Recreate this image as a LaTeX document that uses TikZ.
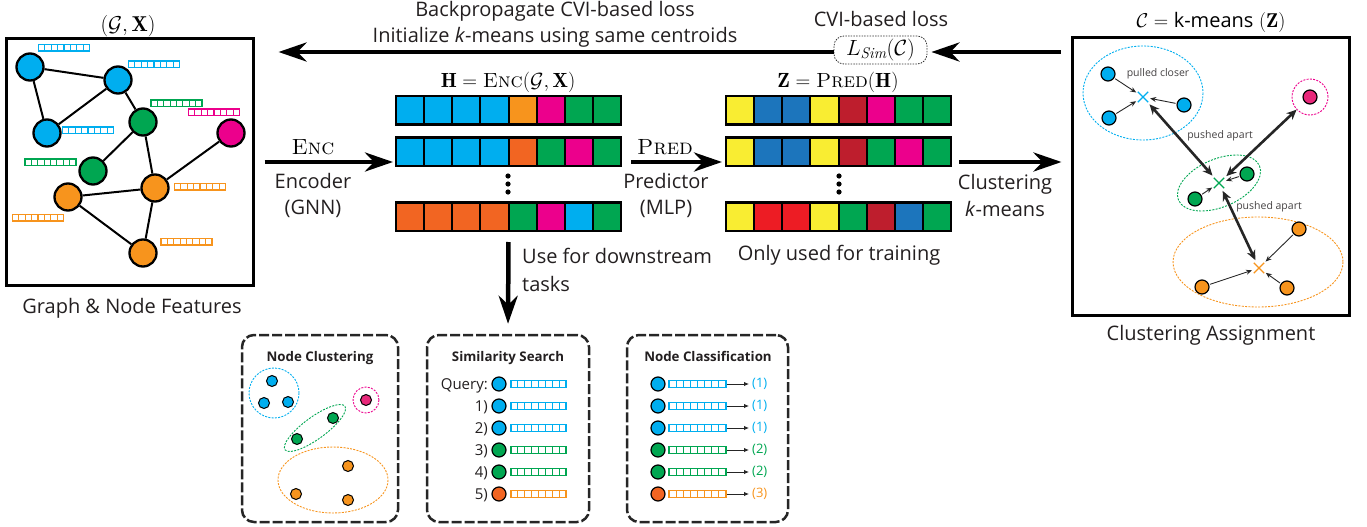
\RequirePackage{fix-cm}
\documentclass[tikz,border=0pt]{standalone}
\usepackage{fontspec}
\setsansfont{Open Sans}
\usetikzlibrary{arrows.meta,shapes.misc,calc}
\definecolor{cblue}{HTML}{00AEEF}
\definecolor{cgreen}{HTML}{00A651}
\definecolor{cmag}{HTML}{EC008C}
\definecolor{cpink}{HTML}{E8287A}
\definecolor{corange}{HTML}{F7941D}
\definecolor{cred}{HTML}{F26522}
\definecolor{zblue}{HTML}{1C75BC}
\definecolor{zyellow}{HTML}{F9ED32}
\definecolor{zdark}{HTML}{BE1E2D}
\definecolor{zred}{HTML}{ED1C24}
\definecolor{txt}{HTML}{231F20}
\newcommand\fbar[4]{%
  \draw[#4, line width=1.1pt] (#1,#2) rectangle ++(#3,6.5);
  \foreach \k in {1,...,7} \draw[#4, line width=1.1pt] ({#1+\k*#3/8},#2) -- ++(0,6.5);
}
\newcommand\mrow[4]{%
  \foreach \c [count=\i from 0] in {#4} \fill[\c] ({#2+\i*28.125},#3) rectangle ++(28.125,28.5);
  \foreach \i in {1,...,7} \draw[line width=2pt] ({#2+\i*28.125},#3) -- ++(0,28.5);
  \node[draw, line width=2.6pt, minimum width=225pt, minimum height=28.5pt, inner sep=0pt, outer sep=0pt, anchor=north west] (#1) at (#2,#3) {};
}
\tikzset{
 lbl/.style={font=\sffamily\fontsize{20}{24}\selectfont, text=txt, inner sep=0pt},
 mth/.style={font=\fontsize{21}{24}\selectfont, text=black, inner sep=0pt},
 sml/.style={font=\sffamily\fontsize{15}{18}\selectfont, text=txt, inner sep=0pt},
 tny/.style={font=\sffamily\fontsize{10.5}{12}\selectfont, text=txt!85, inner sep=0pt},
 ptitle/.style={font=\sffamily\bfseries\fontsize{13.3}{15}\selectfont, text=txt, inner sep=0pt},
 cls/.style={font=\sffamily\fontsize{13}{15}\selectfont, inner sep=0pt},
 gnode/.style={circle, draw=black, line width=2.3pt, minimum size=27pt, inner sep=0pt},
 gedge/.style={line width=2pt},
 box/.style={draw, line width=3pt, inner sep=0pt},
 bigarrow/.style={line width=4.5pt, -{Stealth[length=28pt,width=19pt,inset=9pt]}},
 panel/.style={draw=black!85, line width=2.5pt, rounded corners=12pt, dash pattern=on 10pt off 3pt, inner sep=0pt},
 dot/.style={circle, draw=black, line width=1.2pt, minimum size=14pt, inner sep=0pt},
 sdot/.style={circle, draw=black, line width=1pt, minimum size=11pt, inner sep=0pt},
 ring/.style={draw, line width=0.9pt, dash pattern=on 2pt off 1.3pt},
 crs/.style={cross out, draw, line width=1.3pt, minimum size=9pt, inner sep=0pt},
 smallarr/.style={draw=black!85, line width=0.9pt, -{Stealth[length=6pt,width=5pt]}, shorten <=1pt, shorten >=2pt},
 dblarr/.style={draw=black!85, line width=2.6pt, {Stealth[length=10pt,width=9pt]}-{Stealth[length=10pt,width=9pt]}, shorten <=3pt, shorten >=3pt},
 clsarr/.style={line width=0.9pt, draw=black!85, -{Latex[length=5pt,width=4.5pt]}},
 lsimbox/.style={draw=black!80, line width=0.8pt, dash pattern=on 1.5pt off 1.2pt, rounded corners=10pt, minimum width=93pt, minimum height=28pt, inner sep=0pt, font=\fontsize{22}{24}\selectfont}
}
\begin{document}
\begin{tikzpicture}[x=1pt,y=-1pt]
\useasboundingbox (0,0) rectangle (1367,527);

% ---------- left graph panel ----------
\node[box, minimum width=247pt, minimum height=246pt] (gbox) at (129.5,162) {};
\node[mth, anchor=base, font=\fontsize{21.5}{24}\selectfont] (gtitle) at (128,32) {$(\mathcal{G},\mathbf{X})$};
\node[lbl, anchor=base] (gcap) at (132,313) {Graph \& Node Features};

\node[gnode, fill=cblue] (n1) at (30,67) {};
\node[gnode, fill=cblue] (n2) at (118,80) {};
\node[gnode, fill=cblue] (n3) at (47,133) {};
\node[gnode, fill=cgreen] (n4) at (143,122) {};
\node[gnode, fill=cmag] (n5) at (231,133) {};
\node[gnode, fill=cgreen] (n6) at (93,171) {};
\node[gnode, fill=corange] (n7) at (68,197) {};
\node[gnode, fill=corange] (n8) at (155,188) {};
\node[gnode, fill=corange] (n9) at (143,253) {};
\draw[gedge] (n1) -- (n2);
\draw[gedge] (n1) -- (n3);
\draw[gedge] (n2) -- (n3);
\draw[gedge] (n2) -- (n4);
\draw[gedge] (n4) -- (n6);
\draw[gedge] (n4) -- (n8);
\draw[gedge] (n5) -- (n8);
\draw[gedge] (n7) -- (n8);
\draw[gedge] (n7) -- (n9);
\draw[gedge] (n8) -- (n9);

\fbar{38.5}{44.5}{51}{cblue}
\fbar{128.5}{61}{51}{cblue}
\fbar{151}{100}{51}{cgreen}
\fbar{188.5}{109}{51}{cmag}
\fbar{62.5}{127}{51}{cblue}
\fbar{25}{159}{51}{cgreen}
\fbar{174.5}{183.5}{51}{corange}
\fbar{12.5}{214.5}{51}{corange}
\fbar{161}{238.5}{51}{corange}

% ---------- right panel box ----------
\node[box, minimum width=277pt, minimum height=277pt] (rbox) at (1210.5,176.5) {};
\node[mth, anchor=base, font=\fontsize{20}{24}\selectfont] (rtitle) at (1211,28) {$\mathcal{C} = \mbox{\sffamily k-means}\;(\mathbf{Z})$};
\node[lbl, anchor=base] (rcap) at (1211,340) {Clustering Assignment};

% ---------- top arrow ----------
\node[lbl, anchor=base] (bp1) at (555,17) {Backpropagate CVI-based loss};
\node[lbl, anchor=base] (bp2) at (555,43) {Initialize \textit{k}-means using same centroids};
\node[lbl, anchor=base] (cvi) at (881,27) {CVI-based loss};
\node[lsimbox] (lsim) at (880.5,50) {$L_{\mathit{Sim}}(\mathcal{C})$};
\draw[bigarrow, shorten <=10pt, shorten >=4pt] (rbox.west |- 0,52) -- (lsim.east |- 0,52);
\draw[bigarrow, shorten >=24pt] (lsim.west |- 0,52) -- (gbox.east |- 0,52);

% ---------- H matrix ----------
\node[mth, anchor=base, font=\fontsize{20.5}{24}\selectfont] (htitle) at (508,87) {$\mathbf{H} = \textsc{Enc}(\mathcal{G},\mathbf{X})$};
\mrow{h1}{396}{96}{cblue,cblue,cblue,cblue,corange,cmag,cgreen,cgreen}
\mrow{h2}{396}{137.5}{cblue,cblue,cblue,cblue,cred,cgreen,cmag,cgreen}
\mrow{h3}{396}{202.5}{cred,cred,cred,cred,cgreen,cmag,cblue,cgreen}
\foreach \yy in {176,184,192} \fill (508,\yy) circle (2.6);

% ---------- Z matrix ----------
\node[mth, anchor=base, font=\fontsize{20.5}{24}\selectfont] (ztitle) at (838,87) {$\mathbf{Z} = \textsc{Pred}(\mathbf{H})$};
\mrow{z1}{726}{96}{zyellow,zblue,zblue,zyellow,zdark,cmag,cgreen,cgreen}
\mrow{z2}{726}{137.5}{zyellow,zblue,zblue,zyellow,zdark,cgreen,cmag,cgreen}
\mrow{z3}{726}{202.5}{zyellow,zred,zred,zyellow,cgreen,zdark,zblue,cgreen}
\foreach \yy in {176,184,192} \fill (839,\yy) circle (2.6);
\node[lbl, anchor=base] (onlyt) at (839,260) {Only used for training};

% ---------- horizontal arrows ----------
\coordinate (encs) at (gbox.east);
\draw[bigarrow, shorten <=10pt, shorten >=3pt] (encs) -- (encs -| h2.west);
\node[mth, anchor=base, font=\fontsize{22}{24}\selectfont] (enc) at (313,154) {\textsc{Enc}};
\node[lbl, anchor=base] (encoder) at (313,188) {Encoder};
\node[lbl, anchor=base] (gnn) at (313,214) {(GNN)};

\draw[bigarrow, shorten <=10pt, shorten >=4pt] (encs -| h2.east) -- (encs -| z2.west);
\node[mth, anchor=base, font=\fontsize{22}{24}\selectfont] (pred) at (665,154) {\textsc{Pred}};
\node[lbl, anchor=base] (predictor) at (666,188) {Predictor};
\node[lbl, anchor=base] (mlp) at (666,214) {(MLP)};

\draw[bigarrow, shorten <=8pt, shorten >=9pt] (encs -| z2.east) -- (encs -| rbox.west);
\node[lbl, anchor=base] (clus) at (1005,189) {Clustering};
\node[lbl, anchor=base] (kmeans) at (1005,216) {\textit{k}-means};

% ---------- bottom panels ----------
\node[panel, minimum width=156pt, minimum height=187pt] (p1) at (320,428.5) {};
\node[panel, minimum width=162pt, minimum height=187pt] (p2) at (508,428.5) {};
\node[panel, minimum width=161pt, minimum height=187pt] (p3) at (707.5,428.5) {};

\draw[bigarrow, shorten <=11pt, shorten >=10pt] (h3.south) -- (p2.north);
\node[lbl, anchor=base west] (use1) at (522,263) {Use for downstream};
\node[lbl, anchor=base west] (use2) at (522,291) {tasks};

% Node clustering
\node[ptitle, anchor=base] (t1) at (320,361) {Node Clustering};
\draw[ring, cblue] (274,393) circle (25);
\node[sdot, fill=cblue] (b1) at (272,381) {};
\node[sdot, fill=cblue] (b2) at (264,403) {};
\node[sdot, fill=cblue] (b3) at (288,402) {};
\draw[ring, cmag] (366,400) circle (13);
\node[sdot, fill=cpink] (b4) at (366,400) {};
\draw[ring, cgreen, rotate around={36:(315,428)}] (315,428) ellipse [x radius=37, y radius=11];
\node[sdot, fill=cgreen] (b5) at (333,418) {};
\node[sdot, fill=cgreen] (b6) at (297,439) {};
\draw[ring, corange] (333,480) ellipse [x radius=55, y radius=33];
\node[sdot, fill=corange] (b7) at (348,466) {};
\node[sdot, fill=corange] (b8) at (296,494) {};
\node[sdot, fill=corange] (b9) at (348,500) {};

% Similarity search
\node[ptitle, anchor=base] (t2) at (508,361) {Similarity Search};
\foreach \lab/\yy/\dc/\bc [count=\j] in {Query:/384/cblue/cblue, 1)/406/cblue/cblue, 2)/428/cblue/cblue, 3)/450/cgreen/cgreen, 4)/472/cgreen/cgreen, 5)/494/cred/corange} {
  \node[sml, anchor=base east] (sl\j) at (488,\yy+5) {\lab};
  \node[dot, fill=\dc] (sd\j) at (499,\yy) {};
  \fbar{511}{\yy-3.25}{55}{\bc}
}

% Node classification
\node[ptitle, anchor=base] (t3) at (708,361) {Node Classification};
\foreach \lab/\yy/\dc/\bc [count=\j] in {(1)/384/cblue/cblue, (1)/406/cblue/cblue, (1)/428/cblue/cblue, (2)/450/cgreen/cgreen, (2)/472/cgreen/cgreen, (3)/494/cred/corange} {
  \node[dot, fill=\dc] (cd\j) at (658,\yy) {};
  \fbar{669}{\yy-3.25}{57}{\bc}
  \coordinate (ce\j) at (727,\yy);
  \node[cls, text=\bc, anchor=west] (cl\j) at (752,\yy) {\lab};
  \draw[clsarr] (ce\j) -- ([xshift=-3pt]cl\j.west);
}

% ---------- right panel contents ----------
\draw[ring, cblue] (1143,93) ellipse [x radius=60, y radius=47];
\node[crs, draw=cblue] (bx) at (1143,97) {};
\node[dot, fill=cblue] (r1) at (1108,74) {};
\node[dot, fill=cblue] (r2) at (1109,118) {};
\node[dot, fill=cblue] (r3) at (1184,105) {};
\draw[smallarr] (r1) -- (bx);
\draw[smallarr] (r2) -- (bx);
\draw[smallarr] (r3) -- (bx);
\node[tny, anchor=base] (pc) at (1158,77) {pulled closer};

\node[circle, ring, draw=cmag, minimum size=36pt, inner sep=0pt] (mring) at (1310,97) {};
\node[dot, fill=cpink] (r4) at (1310,97) {};

\draw[ring, cgreen, rotate around={23:(1219,183)}] (1219,183) ellipse [x radius=44, y radius=24];
\node[crs, draw=cgreen] (gx) at (1219,183) {};
\node[dot, fill=cgreen] (r5) at (1247,174) {};
\node[dot, fill=cgreen] (r6) at (1195,199) {};
\draw[smallarr] (r5) -- (gx);
\draw[smallarr] (r6) -- (gx);

\draw[ring, corange] (1258,262) ellipse [x radius=85, y radius=45];
\node[crs, draw=corange] (ox) at (1259,268) {};
\node[dot, fill=corange] (r7) at (1299,229) {};
\node[dot, fill=corange] (r8) at (1202,287) {};
\node[dot, fill=corange] (r9) at (1287,288) {};
\draw[smallarr] (r7) -- (ox);
\draw[smallarr] (r8) -- (ox);
\draw[smallarr] (r9) -- (ox);

\draw[dblarr] (bx) -- (gx);
\draw[dblarr, shorten <=0pt] (mring) -- (gx);
\draw[dblarr] (gx) -- (ox);
\node[tny, anchor=base] (pa1) at (1220,138) {pushed apart};
\node[tny, anchor=base] (pa2) at (1269,209) {pushed apart};
\end{tikzpicture}
\end{document}
